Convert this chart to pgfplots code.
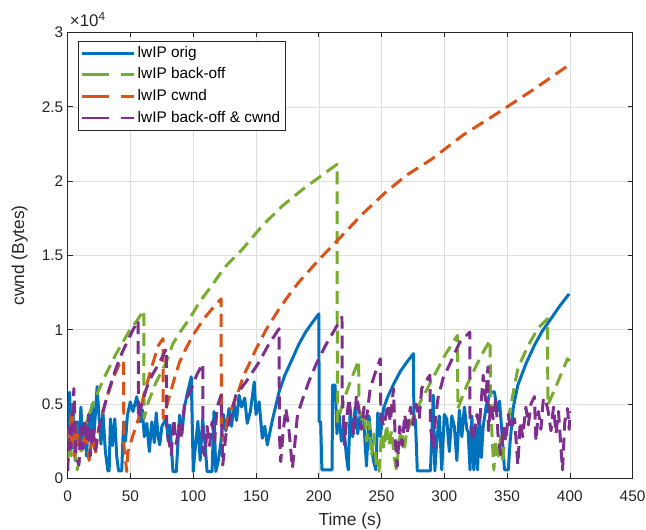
\documentclass[border=0pt]{standalone}
\usepackage{fontspec}
\setmainfont{Liberation Sans}
\usepackage{pgfplots}
\pgfplotsset{compat=1.18}
\definecolor{mblue}{RGB}{0,114,189}
\definecolor{mgreen}{RGB}{119,172,48}
\definecolor{morange}{RGB}{217,83,25}
\definecolor{mpurple}{RGB}{126,47,142}
\definecolor{axisgray}{RGB}{38,38,38}
\pgfplotsset{
  solidleg/.style={legend image code/.code={\draw[##1] (0bp,0bp) -- (52bp,0bp);}},
  dashleg/.style={legend image code/.code={\draw[##1, dash pattern=on 27bp off 12bp] (0bp,0bp) -- (52bp,0bp);}},
}
\begin{document}
\begin{tikzpicture}
\useasboundingbox (-68bp,-51.8bp) rectangle (580.5bp,480.2bp);
\begin{axis}[
  at={(0,0)}, anchor=south west,
  scale only axis, width=567bp, height=447.6bp,
  xmin=0, xmax=450, ymin=0, ymax=30000,
  xtick={0,50,...,450}, ytick={0,5000,...,30000},
  yticklabels={0,0.5,1,1.5,2,2.5,3},
  scaled y ticks=false, scaled x ticks=false,
  tick align=inside, xtick pos=both, ytick pos=both,
  major tick length=5bp,
  grid=major, major grid style={draw=black!13, line width=0.5bp},
  axis line style={draw=axisgray, line width=0.6bp},
  tick style={draw=axisgray, line width=0.6bp},
  /pgf/number format/assume math mode=true,
  ticklabel style={font=\fontsize{15.5}{17}\selectfont, text=axisgray},
  xticklabel style={yshift=-9bp},
  yticklabel style={xshift=-1bp},
  xlabel={Time (s)}, ylabel={cwnd (Bytes)},
  label style={font=\fontsize{17.5}{20}\selectfont, text=axisgray},
  xlabel style={at={(axis description cs:0.5,-0.096)}, anchor=center},
  ylabel style={at={(axis description cs:-0.085,0.5)}, anchor=center},
  clip mode=individual,
  no markers,
  every axis plot/.append style={line width=3bp, line join=round},
  legend cell align=left,
  legend style={at={(rel axis cs:0.0176,0.981)}, anchor=north west,
    draw=axisgray, line width=0.6bp, fill=white,
    font=\fontsize{15.5}{17}\selectfont, text=black,
    nodes={inner sep=2bp, text height=11.5bp, text depth=3bp},
    inner xsep=3bp, inner ysep=2.7bp, row sep=3.2bp},
]
\addplot[mblue, solid, solidleg]
coordinates {
(0,2500)(1.5,5800)(3,2000)(4.5,4300)(6,1200)(7.5,3800)(9,2200)(10.5,4800)(12,2000)(13.5,3500)
(15,1500)(16.5,4200)(18,2600)(19.5,5000)(21,3000)(23.4,6180)(25,4000)(26.5,2300)(28,4500)(30,1800)
(32,500)(33,500)(34,4000)(35.5,2200)(37.5,4000)(39,1500)(40.5,500)(43,500)(44.5,3800)(46,2500)
(47.5,4200)(49.8,5150)(52,4500)(55,5490)(57.8,3800)(59.5,4600)(61,2800)(63,3700)(65,1800)(67,3800)
(69,2400)(70.5,4400)(72,2800)(73.3,2250)(75,3500)(78.6,4030)(80,2500)(81.5,3600)(83.8,460)(86.5,460)
(89.1,4260)(91,3000)(93,4800)(95.5,5800)(98.4,6830)(100,460)(101,1500)(103.7,3830)(105.5,1200)(107.5,4000)
(109.5,2200)(111,460)(115,460)(116.5,4500)(118,460)(120,1200)(122,2400)(124,4300)(126,3200)(128.5,4700)
(130.5,3500)(132.5,5000)(134.5,3900)(136.5,5600)(138.5,4800)(141,5400)(143,3700)(145.5,4500)(148.6,6490)(150,4300)
(152.5,5150)(155,2700)(157,3500)(159,2250)(163,3900)(168.4,5820)(173,6950)(179,8050)(184,9000)(189.5,9840)
(195,10500)(200.1,11070)(200.3,3810)(201.5,3810)(202.5,570)(210.6,570)(211,6270)(213,6270)(214.5,3000)(216,4500)
(218,2500)(220,3500)(222,1500)(223.5,570)(225,4500)(227,2800)(229,4800)(231,3000)(233,4300)(235.7,4030)
(238,830)(240,4200)(241.5,2800)(243.5,1200)(245.5,570)(247,4400)(249,2800)(251.6,4700)(255,5500)(260,6400)
(265,7200)(270,7800)(275.4,8390)(275.8,3960)(277,3960)(278.5,500)(289,500)(291.2,5600)(292.5,500)(294,2500)
(296,4200)(298,570)(300,4300)(302,4000)(304,1800)(306,4200)(308,3500)(310,1200)(312,4600)(314,2800)
(316,4800)(318,3300)(319,3140)(320.5,570)(322,4200)(323.5,570)(325,3600)(326.5,570)(328,4000)(329.5,1400)
(331,3500)(333.5,4900)(336,5600)(338,5800)(340,5820)(342,4500)(344,5200)(346,3000)(348,570)(351,570)
(352.5,2500)(355,4800)(358.6,6270)(365,7700)(371.8,8950)(378,9900)(385,10740)(392,11600)(399.5,12410)
};
\addlegendentry{lwIP orig}
\addplot[mgreen, dash pattern=on 13bp off 7bp, dashleg]
coordinates {
(0,1000)(1,3500)(2.5,1500)(4,4200)(5.5,2000)(7.5,570)(10,1500)(14.1,3590)(20,5000)(25,6000)
(30,6940)(37.9,8280)(48.5,9840)(55,10600)(60.6,11300)(60.8,4030)(64.3,5150)(70,6400)(78.6,7830)(83.8,9060)
(90,9900)(97,10740)(105,11860)(115,13000)(125,14200)(139.3,15430)(155,17000)(171,18330)(188,19500)(205.4,20570)
(214.6,21130)(214.8,3810)(220,5300)(226,6700)(231.8,7940)(232,4700)(234,3800)(236,4700)(238,2500)(240,3800)
(242,1500)(244,3000)(246,600)(248,480)(250,3000)(252,2000)(254,3600)(256,2200)(258,3200)(260,1500)
(262,480)(264,2600)(266,3200)(268,1800)(270,3140)(280,5000)(290,6600)(300.5,8280)(310.5,9620)(310.8,4700)
(318,6270)(325,7500)(331,8500)(336.5,9300)(336.8,6050)(338,3000)(339.5,570)(341,2500)(343,1500)(345,2800)
(346.5,1000)(348,2500)(353,4900)(358.6,7390)(366,8800)(374.4,10070)(382.3,10740)(382.5,4930)(388,6000)(394,7200)
(398.2,8050)(400,7900)
};
\addlegendentry{lwIP back-off}
\addplot[morange, dash pattern=on 13bp off 7bp, dashleg]
coordinates {
(1,2000)(3,4500)(5,1500)(7,3500)(9,2200)(11.5,1800)(14,3200)(17,1200)(19.5,3000)(22,1580)
(24.7,3360)(28.5,4600)(32.6,5820)(36.5,6800)(40.6,7600)(44.5,7940)(44.7,2250)(47,460)(48,1800)(52,2900)
(56.4,4030)(60,5400)(64.3,6720)(68,7800)(72.3,8950)(75.9,9400)(76.1,4030)(81.2,5600)(85,6700)(89.1,7830)
(94,8700)(99.7,9620)(105,10300)(110,10900)(116,11500)(122.2,12080)(122.4,3000)(124.5,2500)(127.4,4030)(132,5000)
(136.7,6050)(140,6900)(144.6,7700)(150,8700)(158,10000)(168.4,11400)(176,12300)(184.2,13210)(200,14700)(215.9,16100)
(235,17800)(253,19230)(270,20400)(289.9,21470)(315,23100)(342.7,24590)(370,26100)(400,27850)
};
\addlegendentry{lwIP cwnd}
\addplot[mpurple, dash pattern=on 13bp off 7bp, dashleg]
coordinates {
(0,500)(1,3500)(2.5,2000)(4.9,6050)(6.5,1500)(8.9,900)(10.5,3500)(12,2000)(13.5,4000)(15,2500)
(16.5,4300)(18,1500)(20,3500)(22,1900)(24,3000)(28,4500)(33,6000)(38,7300)(43,8400)(48,9300)
(52,10000)(56.1,10620)(56.3,4030)(59,5000)(62.7,6050)(67,6900)(73.3,7830)(78.6,8730)(78.8,3360)(82.5,1580)
(84.5,4000)(86.5,2300)(88.5,3600)(90,2600)(93,4930)(96,5600)(99.7,6270)(103,7000)(107.6,7720)(107.8,1820)
(109.5,1500)(111,3500)(113,2200)(115,3800)(117,2500)(119,4800)(122.2,5600)(123.5,900)(126,2920)(130,4300)
(134,5600)(142,6490)(146,7000)(152.5,7830)(160,9000)(168.4,10070)(168.6,3000)(169.7,1130)(171.5,3000)(173.7,4700)
(176,3500)(179,680)(181,2400)(183,4260)(187,5300)(192,6490)(198,7700)(205.4,8950)(212,9900)(218.5,10850)
(218.7,5840)(220.5,2250)(222,3800)(224,5370)(226,4000)(228,2900)(230,5600)(232,4500)(234,3300)(236,4800)
(238,4000)(241,6050)(245,7100)(249,8050)(249.5,4030)(252,3500)(255,5000)(257,3800)(259.5,6050)(261,2500)
(262.5,800)(264.5,3500)(266.5,2200)(268.5,4300)(270.5,3000)(273,4800)(275,3600)(277.5,5000)(280,4000)(282,6050)
(285,6500)(288.6,6940)(289,3500)(291,2000)(293,4000)(295,5400)(299,6720)(305,7800)(312.4,9170)(320.3,9840)
(320.5,3830)(323,2500)(326,4300)(328,3500)(331,6940)(333,5200)(334.8,7500)(335.2,3200)(337,5000)(339,4000)
(341,5400)(343,2700)(345,1600)(347,3500)(349,2500)(351,4300)(353,3300)(356,4000)(358.6,900)(360.5,3800)
(362.5,2800)(365,4800)(367,3600)(369,5000)(371.8,5500)(373,2500)(375,4500)(377,3300)(379,5400)(381,5200)
(383,4400)(385,3200)(387,4800)(389,3000)(391,4500)(392.5,2600)(394.2,570)(396,3800)(398.2,4700)(399.5,3300)
(400,4500)
};
\addlegendentry{lwIP back-off \& cwnd}
\node[anchor=base west, inner sep=0pt, font=\fontsize{17}{19}\selectfont, text=axisgray]
  at ([xshift=2bp, yshift=5.5bp]rel axis cs:0,1) {×10\textsuperscript{4}};
\end{axis}
\end{tikzpicture}
\end{document}
